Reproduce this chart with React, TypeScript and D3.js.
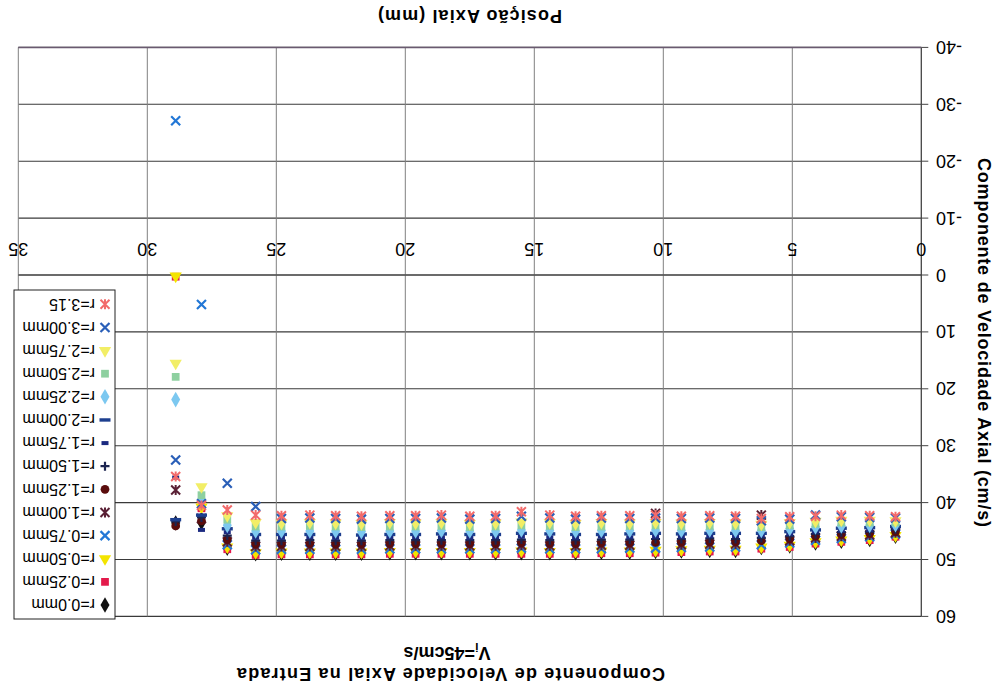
import React from 'react';
import * as d3 from 'd3';

// Axial positions (mm) of the measuring stations
const positions = [1.0, 2.0, 3.1, 4.1, 5.1, 6.2, 7.2, 8.2, 9.3, 10.3, 11.3, 12.4, 13.4, 14.4, 15.5, 16.5, 17.5, 18.6, 19.6, 20.6, 21.7, 22.7, 23.7, 24.8, 25.8, 26.9, 27.9, 28.9];

// Axial velocity (cm/s) per radial position
const r000 = [45.9, 46.5, 46.8, 47.1, 47.6, 47.9, 48.4, 48.4, 48.5, 48.6, 48.7, 48.7, 48.8, 48.8, 48.8, 48.8, 48.8, 48.8, 48.8, 48.8, 48.9, 48.9, 48.9, 48.9, 49.0, 48.0, 43.5, 43.6];
const r025 = [46.0, 46.6, 46.9, 47.2, 47.8, 48.1, 48.6, 48.6, 48.7, 48.8, 48.9, 48.9, 49.0, 49.0, 49.0, 49.0, 49.0, 49.0, 49.0, 49.0, 49.1, 49.1, 49.1, 49.1, 49.2, 48.2, 41.0, 0.3];
const r050 = [45.8, 46.3, 46.6, 46.9, 47.5, 47.8, 48.2, 48.2, 48.3, 48.4, 48.5, 48.5, 48.6, 48.6, 48.5, 48.6, 48.6, 48.6, 48.6, 48.6, 48.7, 48.7, 48.7, 48.7, 48.8, 47.8, 40.8, 0.2];
const r075 = [45.5, 46.0, 46.3, 46.6, 47.1, 47.4, 47.8, 47.8, 47.9, 48.0, 48.0, 48.1, 48.1, 48.1, 48.0, 48.1, 48.1, 48.1, 48.1, 48.1, 48.2, 48.2, 48.2, 48.2, 48.3, 47.4, 5.2, -27.1];
const r100 = [45.3, 45.7, 45.9, 46.2, 46.7, 42.2, 47.3, 47.3, 47.4, 41.9, 47.5, 47.5, 47.6, 47.6, 47.5, 47.6, 47.6, 47.6, 47.6, 47.6, 47.7, 47.7, 47.7, 47.7, 47.7, 46.9, 42.8, 37.8];
const r125 = [45.1, 45.4, 45.6, 45.9, 46.4, 46.7, 46.9, 46.9, 47.0, 47.0, 47.1, 47.1, 47.2, 47.2, 47.1, 47.2, 47.2, 47.2, 47.2, 47.2, 47.3, 47.3, 47.2, 47.3, 47.3, 46.5, 43.2, 44.1];
const r150 = [44.7, 45.1, 45.2, 45.5, 45.9, 46.2, 46.4, 46.3, 46.4, 46.4, 46.5, 46.5, 46.6, 46.6, 46.5, 46.6, 46.6, 46.6, 46.6, 46.6, 46.7, 46.7, 46.6, 46.7, 46.7, 45.8, 42.6, 43.3];
const r175 = [44.5, 44.8, 44.9, 45.1, 45.5, 45.8, 45.9, 45.9, 46.0, 46.0, 46.1, 46.0, 46.2, 46.1, 46.0, 46.1, 46.2, 46.1, 46.1, 46.1, 46.2, 46.2, 46.1, 46.2, 46.2, 45.2, 44.8, 35.6];
const r200 = [44.2, 44.4, 44.5, 44.8, 45.1, 45.4, 45.4, 45.4, 45.5, 45.4, 45.5, 45.6, 45.6, 45.5, 45.4, 45.6, 45.6, 45.5, 45.6, 45.6, 45.7, 45.6, 45.6, 45.6, 45.6, 44.6, 42.2, 43.0];
const r225 = [43.9, 44.0, 44.1, 44.3, 44.6, 44.9, 44.9, 44.8, 44.9, 44.8, 44.9, 44.9, 45.0, 44.9, 44.8, 45.0, 45.0, 44.9, 45.0, 45.0, 45.1, 45.0, 45.0, 45.0, 45.0, 44.0, 39.6, 21.9];
const r250 = [43.5, 43.5, 43.5, 43.7, 44.0, 44.3, 44.1, 44.1, 44.2, 44.0, 44.1, 44.2, 44.3, 44.1, 44.0, 44.2, 44.3, 44.1, 44.2, 44.2, 44.3, 44.2, 44.1, 44.2, 44.2, 43.0, 38.7, 17.9];
const r275 = [43.2, 43.1, 43.1, 43.3, 43.5, 43.8, 43.6, 43.5, 43.6, 43.5, 43.6, 43.5, 43.7, 43.5, 43.4, 43.6, 43.7, 43.5, 43.6, 43.5, 43.7, 43.6, 43.5, 43.6, 43.5, 42.3, 37.2, 15.5];
const r300 = [42.7, 42.6, 42.5, 42.2, 42.9, 43.2, 42.8, 42.7, 42.8, 42.7, 42.8, 42.7, 42.9, 42.7, 42.4, 42.8, 42.9, 42.7, 42.8, 42.8, 42.9, 42.8, 42.7, 42.8, 40.7, 36.6, 40.2, 32.5];
const r315 = [42.5, 42.3, 42.2, 42.4, 42.5, 42.8, 42.4, 42.3, 42.4, 42.2, 42.3, 42.3, 42.4, 42.2, 41.6, 42.3, 42.4, 42.2, 42.3, 42.3, 42.4, 42.3, 42.2, 42.3, 42.2, 41.3, 40.5, 35.4];

const seriesNames = ['r=0.0mm', 'r=0.25mm', 'r=0.50mm', 'r=0.75mm', 'r=1.00mm', 'r=1.25mm', 'r=1.50mm', 'r=1.75mm', 'r=2.00mm', 'r=2.25mm', 'r=2.50mm', 'r=2.75mm', 'r=3.00mm', 'r=3.15'];
const seriesValues = [r000, r025, r050, r075, r100, r125, r150, r175, r200, r225, r250, r275, r300, r315];

const xTicks = [0, 5, 10, 15, 20, 25, 30, 35];
const yTicks = [-40, -30, -20, -10, 0, 10, 20, 30, 40, 50, 60];

type MarkerKind = 'diamond' | 'square' | 'triangle' | 'x' | 'star' | 'circle' | 'plus' | 'shortdash' | 'dash';

const seriesStyle: { marker: MarkerKind; color: string }[] = [
  { marker: 'diamond', color: '#111111' },
  { marker: 'square', color: '#e31a4b' },
  { marker: 'triangle', color: '#f3e400' },
  { marker: 'x', color: '#2277d6' },
  { marker: 'star', color: '#5a2035' },
  { marker: 'circle', color: '#5a0d0d' },
  { marker: 'plus', color: '#1c2450' },
  { marker: 'shortdash', color: '#1b2a80' },
  { marker: 'dash', color: '#1d3f8f' },
  { marker: 'diamond', color: '#7cc8f0' },
  { marker: 'square', color: '#8ed0a0' },
  { marker: 'triangle', color: '#f2ee66' },
  { marker: 'x', color: '#2a5fb8' },
  { marker: 'star', color: '#f26b6b' },
];

const FONT = '"Liberation Sans", Arial, sans-serif';

function Marker({ kind, color, cx, cy }: { kind: MarkerKind; color: string; cx: number; cy: number }) {
  const t = `translate(${cx},${cy})`;
  switch (kind) {
    case 'diamond':
      return <path transform={t} d={d3.symbol(d3.symbolDiamond, 70)() as string} fill={color} />;
    case 'square':
      return <path transform={t} d={d3.symbol(d3.symbolSquare, 60)() as string} fill={color} />;
    case 'triangle':
      return <path transform={t} d={d3.symbol(d3.symbolTriangle, 65)() as string} fill={color} />;
    case 'circle':
      return <path transform={t} d={d3.symbol(d3.symbolCircle, 60)() as string} fill={color} />;
    case 'x':
      return <path transform={t} d="M-4.5,-4.5L4.5,4.5M-4.5,4.5L4.5,-4.5" stroke={color} strokeWidth={2.2} fill="none" />;
    case 'star':
      return <path transform={t} d="M-4.5,-4.5L4.5,4.5M-4.5,4.5L4.5,-4.5M0,-5L0,5" stroke={color} strokeWidth={2} fill="none" />;
    case 'plus':
      return <path transform={t} d="M-4.5,0L4.5,0M0,-4.5L0,4.5" stroke={color} strokeWidth={2.2} fill="none" />;
    case 'shortdash':
      return <rect x={cx - 3.5} y={cy - 2} width={7} height={4} fill={color} />;
    case 'dash':
      return <rect x={cx - 5.5} y={cy - 1.7} width={11} height={3.4} fill={color} />;
  }
  return null;
}

export default function App() {
  const W = 1000;
  const H = 692;
  const x = d3.scaleLinear().domain([0, 35]).range([78.7, 981.7]);
  const y = d3.scaleLinear().domain([-40, 60]).range([644.6, 75.6]);

  const legendX = 885;
  const legendY = 73;
  const legendRow = 23.13;

  return (
    <svg width={W} height={H} style={{ position: 'absolute', left: 0, top: 0, background: '#fff' }} fontFamily={FONT}>
      <rect width={W} height={H} fill="#fff" />
      <g transform={`rotate(180 ${W / 2} ${H / 2})`}>
        {/* grid */}
        {yTicks.map((v) => (
          <line key={'gy' + v} x1={x(0)} x2={x(35)} y1={y(v)} y2={y(v)} stroke="#3a3a3a" strokeWidth={1.1} />
        ))}
        {xTicks.filter((v) => v > 0).map((v) => (
          <line key={'gx' + v} x1={x(v)} x2={x(v)} y1={y(60)} y2={y(-40)} stroke="#808080" strokeWidth={1} />
        ))}
        {/* value axis */}
        <line x1={x(0)} x2={x(0)} y1={y(60)} y2={y(-40)} stroke="#444" strokeWidth={1.3} />
        {yTicks.map((v) => (
          <line key={'ty' + v} x1={x(0) - 7} x2={x(0)} y1={y(v)} y2={y(v)} stroke="#444" strokeWidth={1} />
        ))}
        {yTicks.map((v) => (
          <text key={'ly' + v} x={64} y={y(v)} dy="0.36em" textAnchor="end" fontSize={18} fill="#000">
            {v}
          </text>
        ))}
        {/* category axis at zero */}
        <line x1={x(0)} x2={x(35)} y1={y(0)} y2={y(0)} stroke="#3a3a3a" strokeWidth={1.1} />
        {xTicks.map((v) => (
          <text key={'lx' + v} x={x(v)} y={449} textAnchor="middle" fontSize={18} fill="#000">
            {v}
          </text>
        ))}
        {/* plot border */}
        <line x1={x(0)} x2={x(35)} y1={y(-40)} y2={y(-40)} stroke="#6a5a70" strokeWidth={1.5} />

        {/* data */}
        {seriesValues.map((vals, si) => (
          <g key={'s' + si}>
            {vals.map((v, i) => (
              <Marker key={i} kind={seriesStyle[si].marker} color={seriesStyle[si].color} cx={x(positions[i])} cy={y(v)} />
            ))}
          </g>
        ))}

        {/* legend */}
        <rect x={legendX} y={legendY} width={101} height={329} fill="#fff" stroke="#222" strokeWidth={1} />
        {seriesNames.map((name, i) => {
          const cy = legendY + 14 + i * legendRow;
          return (
            <g key={'lg' + i}>
              <Marker kind={seriesStyle[i].marker} color={seriesStyle[i].color} cx={legendX + 10} cy={cy} />
              <text x={legendX + 20} y={cy} dy="0.36em" fontSize={16} fill="#000">
                {name}
              </text>
            </g>
          );
        })}

        {/* titles */}
        <text x={549} y={24} textAnchor="middle" fontSize={18} fontWeight="bold" textLength={428} lengthAdjust="spacing">
          Componente de Velocidade Axial na Entrada
        </text>
        <text x={553} y={45} textAnchor="middle" fontSize={18} fontWeight="bold">
          V<tspan fontSize={12} dy={4}>i</tspan>
          <tspan dy={-4}>=45cm/s</tspan>
        </text>
        <text x={530} y={682} textAnchor="middle" fontSize={18} fontWeight="bold" textLength={184} lengthAdjust="spacing">
          Posição Axial (mm)
        </text>
        <text
          transform={`translate(22,349.5) rotate(-90)`}
          textAnchor="middle"
          fontSize={18}
          fontWeight="bold"
          textLength={369}
          lengthAdjust="spacing"
        >
          Componente de Velocidade Axial (cm/s)
        </text>
      </g>
    </svg>
  );
}
